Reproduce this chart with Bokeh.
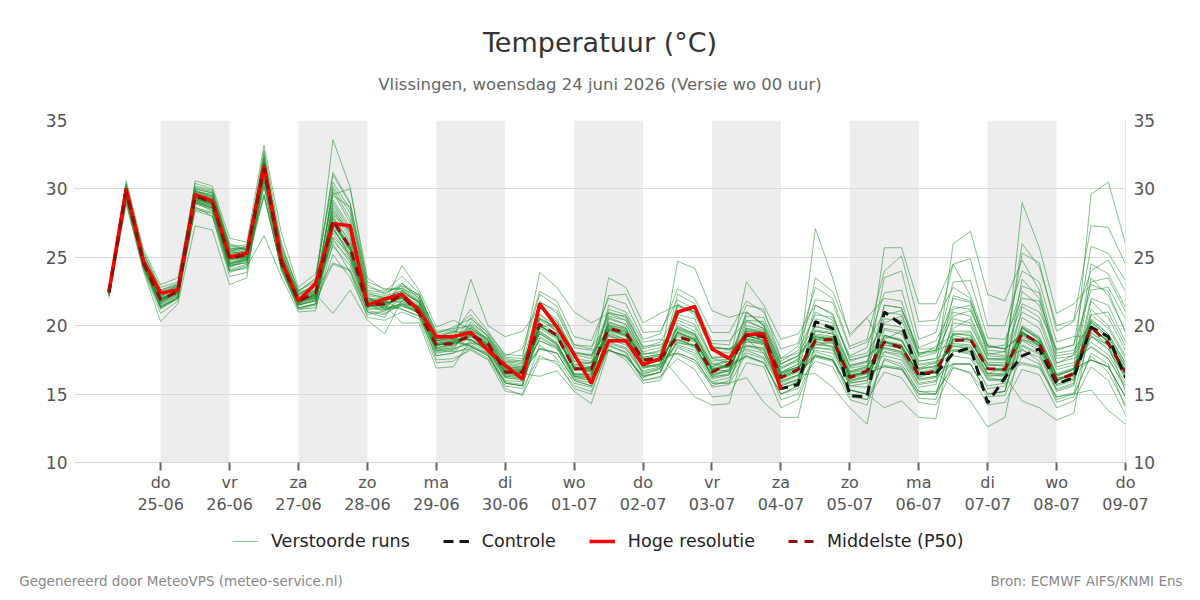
from bokeh.plotting import figure
from bokeh.layouts import column
from bokeh.models import (Range1d, FixedTicker, LinearAxis, Legend, LegendItem, Title)
from bokeh.embed import file_html
from bokeh.resources import INLINE

# ---------------- data ----------------
# forecast steps: hours after 24-06 00:00 (6-hourly, 24-06 06:00 .. 09-07 00:00)
step_hours = list(range(6, 361, 6))

day_names = ["do", "vr", "za", "zo", "ma", "di", "wo", "do", "vr", "za", "zo", "ma", "di", "wo", "do"]
day_dates = ["25-06", "26-06", "27-06", "28-06", "29-06", "30-06", "01-07", "02-07",
             "03-07", "04-07", "05-07", "06-07", "07-07", "08-07", "09-07"]
day_hours = [24 * (k + 1) for k in range(len(day_dates))]
shaded_days = ["25-06", "27-06", "29-06", "01-07", "03-07", "05-07", "07-07"]
y_ticks = [10, 15, 20, 25, 30, 35]

title_text = "Temperatuur (°C)"
subtitle_text = "Vlissingen, woensdag 24 juni 2026 (Versie wo 00 uur)"
footer_left = "Gegenereerd door MeteoVPS (meteo-service.nl)"
footer_right = "Bron: ECMWF AIFS/KNMI Ens"
legend_labels = ["Verstoorde runs", "Controle", "Hoge resolutie", "Middelste (P50)"]

hires = [22.5, 30.0, 24.7, 22.4, 22.6, 29.6, 29.1, 25.0, 25.3, 31.7, 24.8, 21.8, 23.1,
         27.45, 27.3, 21.5, 21.95, 22.3, 21.1, 19.2, 19.2, 19.5, 18.2, 17.1, 16.1, 21.6,
         19.9, 17.9, 15.8, 18.9, 18.9, 17.15, 17.6, 21.0, 21.4, 18.3, 17.6, 19.35, 19.4, 15.3]

control = [22.5, 30.0, 24.7, 22.4, 22.6, 29.6, 29.1, 25.0, 25.3, 31.7, 24.8, 21.8, 23.1,
           27.45, 27.3, 21.5, 21.95, 22.3, 21.1, 19.2, 19.2, 19.5, 18.2, 17.1, 16.1, 21.6,
           19.9, 17.9, 15.8, 18.9, 18.9, 17.15, 17.6, 21.0, 21.4, 18.3, 17.6, 19.35, 19.4,
           15.4, 15.7, 20.3, 19.8, 14.9, 14.8, 21.0, 20.1, 16.5, 16.5, 18.0, 18.4, 14.35,
           16.2, 17.8, 18.3, 15.75, 16.2, 19.9, 19.2, 16.2]

median = [22.4, 29.8, 24.6, 21.9, 22.5, 29.5, 29.0, 24.9, 25.2, 31.5, 24.6, 21.8, 22.4,
          27.7, 25.7, 21.5, 21.6, 22.2, 20.9, 18.6, 18.7, 19.3, 18.7, 16.6, 16.6, 20.1,
          19.3, 16.85, 16.85, 19.8, 19.5, 17.5, 17.6, 19.2, 18.8, 16.6, 17.2, 19.3, 19.2,
          16.2, 16.8, 18.9, 19.0, 16.2, 16.7, 18.8, 18.4, 16.4, 16.7, 18.9, 19.0, 16.85,
          16.8, 19.45, 18.7, 16.0, 16.5, 19.9, 18.7, 16.6]

members = [
    [22.4, 29.9,24.7,22.0,22.6, 29.5,29.1,25.0,25.2, 32.4,25.6,22.2,23.0, 33.6,30.1,23.0,22.3, 23.1,22.0,19.2,19.5, 19.6,18.6,16.9,16.7, 18.4,18.0,16.1,15.8, 19.5,19.0,17.2,17.4, 21.6,20.8,18.2,18.0, 19.5,19.1,16.4,16.9, 19.0,19.2,16.5,16.8, 17.1,16.9,15.2,15.0, 18.8,19.2,16.9,16.6, 23.4,22.0,17.8,18.0, 20.2,19.0,16.8],
    [22.5, 29.7,24.5,21.8,22.4, 29.3,28.9,24.7,25.0, 31.2,24.9,21.7,22.1, 27.0,25.5,21.4,21.6, 22.0,21.4,18.7,18.9, 19.3,18.4,16.5,16.4, 20.2,19.4,16.8,16.9, 21.2,20.8,18.4,18.8, 21.0,21.3,18.5,18.2, 19.0,18.8,16.5,17.0, 27.1,23.5,19.2,20.6, 22.0,21.8,17.8,18.5, 19.3,19.0,16.5,16.9, 19.0,18.6,16.2,16.3, 23.5,22.2,19.6],
    [22.6, 30.3,25.2,22.6,23.1, 30.1,29.8,25.7,25.6, 31.6,24.6,21.9,22.5, 24.6,24.1,21.0,20.8, 21.8,21.2,18.4,18.6, 19.2,18.7,16.8,16.6, 19.8,19.0,17.0,16.6, 19.9,19.6,17.6,17.5, 19.3,18.9,16.9,17.1, 17.7,17.3,15.0,15.4, 19.4,19.2,16.4,16.6, 18.6,18.3,16.6,16.9, 26.0,26.9,22.3,21.8, 24.8,22.6,18.0,18.2, 20.3,19.2,17.0],
    [22.4, 29.6,24.4,21.7,22.3, 28.6,28.3,24.1,24.5, 31.0,25.0,21.6,22.4, 28.3,26.4,21.8,21.7, 23.1,22.2,19.5,19.7, 20.8,19.4,17.7,17.6, 23.9,22.8,21.0,20.2, 20.9,20.7,18.5,18.6, 19.8,19.4,17.2,17.0, 19.6,19.5,16.6,17.0, 18.6,18.8,16.1,16.5, 19.2,18.9,16.7,16.5, 19.4,19.5,17.2,17.0, 19.9,18.9,16.3,16.8, 29.6,30.5,26.0],
    [22.2, 29.2,24.2,21.2,22.0, 28.4,28.0,23.9,24.3, 26.6,23.6,21.0,21.1, 27.2,25.0,21.5,21.3, 22.3,21.5,18.5,18.8, 18.5,17.8,15.9,15.7, 19.9,19.1,16.8,17.0, 19.6,19.2,17.2,17.7, 17.9,17.3,15.6,16.0, 19.2,19.0,16.1,16.6, 17.7,17.4,15.3,15.0, 18.9,18.6,16.5,16.8, 18.9,18.8,16.9,16.7, 17.2,16.9,14.8,15.1, 19.5,18.7,16.4],
    [22.4, 29.8,24.6,22.1,22.7, 29.6,29.2,25.1,25.4, 31.5,24.8,21.8,22.2, 30.2,28.2,22.4,22.0, 22.2,21.4,18.6,18.7, 19.5,18.6,16.6,16.5, 20.0,19.3,16.9,16.8, 18.2,17.7,16.2,16.6, 19.6,19.1,16.7,17.2, 23.2,21.5,19.0,19.4, 21.5,20.9,17.4,17.8, 18.6,18.4,16.3,16.6, 19.1,18.9,16.8,16.9, 19.6,18.7,16.0,16.4, 20.0,18.8,16.6],
    [22.6, 30.1,25.0,22.4,22.9, 29.2,28.8,24.8,25.1, 31.1,24.7,21.7,22.0, 26.5,25.2,21.6,21.4, 21.2,20.7,17.8,18.0, 19.4,18.5,16.7,16.8, 21.4,20.3,18.0,17.9, 19.8,19.5,17.4,17.6, 19.4,18.9,16.6,17.3, 19.3,19.2,16.3,16.8, 19.0,18.9,16.2,16.7, 25.7,25.7,21.6,21.6, 24.5,22.2,18.6,18.3, 19.3,18.6,16.1,16.6, 19.7,18.9,16.7],
    [22.3, 29.9,24.8,22.0,22.5, 29.4,29.0,25.2,25.3, 32.2,25.4,22.3,23.0, 28.0,26.0,21.8,21.9, 22.0,21.2,18.7,18.9, 18.6,17.9,15.8,15.6, 20.1,19.2,16.9,16.6, 19.7,19.3,17.3,17.4, 24.7,24.2,21.1,20.6, 21.0,20.1,17.2,17.8, 19.3,19.1,16.4,16.6, 18.8,18.3,16.2,16.7, 17.2,17.2,15.0,15.2, 19.5,18.8,16.0,16.5, 24.5,23.8,21.3],
    [22.4, 29.8,24.6,21.9,22.5, 30.0,29.7,25.5,25.7, 31.4,24.8,21.8,22.3, 20.9,22.6,20.4,19.4, 21.9,21.3,18.6,18.7, 19.2,18.4,16.6,16.5, 18.3,18.0,16.0,15.6, 19.7,19.4,17.5,17.6, 19.2,18.8,16.7,17.1, 19.3,18.9,16.2,16.7, 17.8,17.5,15.3,15.0, 18.8,18.6,16.4,16.7, 19.0,19.0,16.8,16.8, 29.0,25.7,20.9,21.6, 23.0,22.5,19.5],
    [22.2, 29.3,24.3,21.3,22.1, 29.4,28.9,24.9,25.0, 31.3,24.8,21.8,22.4, 27.6,25.8,21.5,21.5, 22.1,21.3,18.6,18.8, 23.4,20.0,19.2,19.6, 21.3,20.5,18.1,17.8, 19.8,19.5,17.4,17.5, 19.5,19.0,16.8,17.2, 17.8,17.3,15.0,15.6, 19.1,19.0,16.3,16.5, 17.0,16.8,15.0,15.0, 19.0,19.0,16.9,16.8, 19.4,18.8,16.0,16.5, 19.9,18.8,16.6],
    [22.4, 29.7,24.5,21.8,22.4, 29.3,28.8,24.6,24.9, 29.5,24.2,21.3,21.6, 27.4,25.6,21.7,21.6, 23.0,22.0,19.3,19.6, 19.4,18.6,16.7,16.6, 20.0,19.2,16.8,16.7, 23.5,22.8,20.2,20.9, 21.5,21.0,18.4,18.3, 19.3,18.9,16.3,16.8, 19.0,18.8,16.3,16.6, 17.0,16.8,15.0,15.0, 17.2,17.2,15.0,15.2, 19.5,18.7,16.0,16.5, 19.8,18.9,16.6],
    [22.5, 29.8,24.6,22.0,22.5, 29.5,29.0,24.9,25.2, 31.5,24.9,21.9,22.2, 27.8,25.8,21.6,21.6, 22.2,21.3,18.6,18.7, 19.3,18.5,16.6,16.6, 18.3,18.0,16.0,15.6, 19.7,19.3,17.3,17.6, 19.5,19.0,16.8,17.0, 17.8,17.3,15.0,15.6, 19.2,19.0,16.3,16.7, 21.5,21.3,18.0,18.2, 22.0,21.7,18.5,18.3, 19.5,18.8,16.0,16.5, 17.5,17.0,14.8],
    [22.6, 30.2,25.1,22.5,23.0, 29.3,29.0,24.9,25.1, 31.3,24.8,21.8,22.3, 30.0,27.8,22.3,22.1, 22.1,21.3,18.6,18.8, 19.4,18.5,16.7,16.5, 20.0,19.2,16.9,16.7, 19.7,19.3,17.3,17.5, 18.0,17.5,15.8,15.8, 19.3,18.9,16.2,16.7, 21.5,20.8,17.5,17.8, 18.8,18.5,16.4,16.6, 19.0,19.0,16.8,16.8, 22.5,21.5,17.6,17.8, 19.8,18.9,16.6],
    [22.4, 29.8,24.6,21.9,22.5, 30.0,29.7,25.6,25.6, 32.3,25.5,22.3,23.0, 27.5,25.8,21.6,21.4, 22.1,21.3,18.6,18.8, 20.6,19.2,17.6,17.4, 20.0,19.3,16.9,16.9, 18.2,17.8,16.3,16.6, 19.5,19.0,16.8,17.0, 19.3,19.2,16.2,16.7, 19.2,19.0,16.3,16.5, 18.8,18.5,16.4,16.6, 22.2,21.8,18.5,18.3, 19.4,18.7,16.0,16.5, 19.9,18.8,16.6],
    [22.3, 29.7,24.5,21.9,22.4, 29.4,28.9,24.9,25.1, 31.4,24.7,21.7,22.2, 27.5,25.6,21.5,21.5, 20.2,20.2,16.9,17.0, 19.0,18.2,16.3,16.2, 20.4,19.6,17.2,17.0, 19.3,18.9,17.0,17.2, 19.8,19.2,17.0,17.4, 21.0,20.0,17.2,17.8, 19.6,19.4,16.6,17.0, 18.4,18.1,16.1,16.3, 19.4,19.3,17.1,17.1, 17.3,17.0,14.8,15.0, 15.3,13.8,12.8],
    [22.2, 29.3,24.3,21.3,22.0, 29.3,28.9,24.8,25.0, 31.2,24.8,21.8,22.3, 27.6,25.6,21.4,21.5, 22.1,21.3,18.6,18.7, 19.3,18.5,16.6,16.5, 16.3,16.7,15.2,14.3, 18.2,17.8,16.3,16.6, 18.9,18.5,16.4,16.7, 19.7,19.5,16.5,17.0, 17.8,17.5,15.3,15.0, 21.5,21.3,18.0,18.2, 18.7,18.6,16.5,16.5, 19.8,19.1,16.4,16.8, 20.3,19.2,17.0],
    [22.4, 29.7,24.5,21.8,22.4, 28.5,28.2,24.0,24.4, 29.5,24.2,21.3,21.6, 27.4,25.5,21.5,21.5, 22.1,21.3,18.6,18.7, 19.6,18.7,16.9,16.8, 19.6,18.8,16.5,16.4, 20.0,19.6,17.5,17.8, 16.3,14.8,14.2,14.3, 19.0,18.7,15.9,16.4, 17.8,17.5,15.3,15.0, 14.0,14.5,13.3,13.2, 19.4,19.3,17.1,17.2, 19.0,18.4,15.7,16.2, 19.5,18.5,16.3],
    [22.4, 29.6,24.7,21.7,22.3, 29.7,29.3,25.3,25.4, 31.0,24.5,21.6,22.0, 26.8,24.9,21.3,21.8, 21.2,20.7,17.8,18.0, 18.5,17.8,15.8,15.6, 19.6,18.7,16.4,16.5, 20.2,19.9,17.7,17.9, 19.0,18.5,16.5,16.8, 19.8,19.6,16.6,17.2, 18.6,18.5,16.0,16.3, 19.3,18.9,16.8,17.1, 18.5,18.4,16.4,16.3, 14.5,14.0,13.1,13.6, 20.5,19.4,17.2],
    [22.7, 30.6,25.6,23.0,23.5, 30.2,29.9,25.8,25.9, 31.6,25.0,22.0,22.4, 29.8,27.5,22.2,22.0, 22.2,21.4,18.7,18.9, 18.5,17.8,15.8,15.6, 20.0,19.2,16.9,16.8, 18.2,17.8,16.3,16.6, 19.5,19.0,16.8,17.0, 21.0,20.0,17.2,17.8, 19.2,19.0,16.3,16.7, 18.8,18.5,16.4,16.6, 15.5,14.5,12.6,13.3, 19.4,18.7,16.0,16.5, 22.0,21.5,18.8],
    [22.5, 29.9,24.5,22.2,22.7, 29.2,28.7,24.6,24.8, 30.8,24.4,21.5,21.9, 24.5,24.0,21.0,20.6, 22.6,21.7,19.0,19.2, 19.8,18.9,17.0,16.9, 19.5,18.6,16.5,16.4, 20.3,19.8,17.7,17.9, 21.4,21.0,18.4,18.3, 18.8,18.7,15.9,16.4, 16.5,15.5,14.0,12.8, 19.3,19.0,16.9,17.0, 18.5,18.3,16.3,16.4, 20.0,19.2,16.5,16.9, 17.5,17.0,14.8],
    [22.3, 29.5,24.4,21.6,22.2, 29.0,28.6,24.5,24.8, 29.6,24.2,21.3,21.6, 28.8,26.8,22.0,21.9, 22.6,21.6,18.9,19.0, 19.0,18.2,16.3,16.2, 21.3,20.3,18.0,17.8, 21.0,20.6,18.3,18.6, 19.0,18.6,16.4,16.7, 19.8,19.5,16.6,17.2, 23.5,22.5,19.4,20.6, 18.3,18.0,16.0,16.2, 19.6,19.6,17.3,17.3, 18.9,18.2,15.6,16.0, 20.4,19.4,17.3],
    [22.0, 28.9,24.0,20.3,21.6, 27.3,27.0,23.0,23.5, 31.3,24.8,21.8,22.3, 27.6,25.7,21.6,21.6, 24.4,22.6,19.9,20.4, 19.7,18.8,17.0,16.9, 19.4,18.6,16.4,16.3, 20.1,19.7,17.6,17.8, 18.0,17.5,15.8,15.8, 16.2,14.4,13.3,13.3, 18.8,18.7,16.0,16.3, 18.4,18.1,16.1,16.3, 17.2,17.2,15.0,15.2, 19.8,19.0,16.3,16.8, 17.5,17.0,14.8],
    [22.5, 30.0,24.9,22.2,22.8, 29.8,29.4,25.3,25.5, 31.8,25.1,22.1,22.6, 26.4,24.6,21.2,21.2, 21.6,20.9,18.2,18.4, 19.9,18.9,17.1,17.0, 20.5,19.7,17.4,17.3, 19.2,18.9,16.9,17.1, 21.5,21.0,18.4,18.3, 18.9,18.6,15.8,16.3, 19.7,19.5,16.7,17.0, 23.5,24.0,19.0,19.5, 24.5,24.9,20.0,20.0, 24.0,23.2,18.8,19.2, 19.3,18.3,16.1],
    [22.5, 29.8,24.6,21.9,22.5, 30.6,30.2,26.4,26.1, 33.2,26.8,22.8,23.8, 30.5,28.5,22.5,22.2, 22.5,21.8,18.9,19.1, 18.9,18.2,16.2,16.1, 20.6,19.8,17.4,17.2, 19.3,18.8,16.9,17.2, 19.9,19.4,17.2,17.4, 19.1,18.8,16.0,16.4, 18.7,18.5,15.9,16.2, 19.3,18.9,16.8,17.0, 18.6,18.5,16.5,16.4, 19.9,19.1,16.4,16.9, 19.2,18.3,16.2],
    [22.3, 29.4,24.8,22.3,22.8, 28.9,28.5,24.3,24.7, 30.6,24.3,21.5,21.8, 29.0,27.0,22.1,21.2, 21.6,21.0,18.0,18.2, 20.3,19.2,17.3,17.1, 18.9,18.3,16.2,16.0, 20.6,20.1,17.9,18.2, 20.4,19.9,17.6,17.8, 18.5,18.2,15.6,16.0, 20.2,20.0,17.0,17.3, 17.8,17.5,15.5,15.7, 20.5,20.2,17.6,17.5, 21.0,20.3,17.0,17.3, 18.5,17.6,15.4],
    [22.6, 30.4,25.3,22.8,23.2, 29.9,29.5,25.4,25.8, 32.0,25.2,22.0,22.7, 25.8,24.4,21.1,20.9, 21.5,20.9,18.1,18.3, 18.8,18.0,16.0,15.9, 19.2,18.5,16.3,16.2, 21.5,21.0,18.8,19.0, 18.6,18.2,16.1,16.4, 20.3,19.8,17.0,17.5, 18.4,18.2,15.8,16.0, 20.5,20.4,17.4,17.6, 18.2,18.0,16.0,16.1, 18.5,17.9,15.4,15.8, 21.2,20.0,17.8],
    [22.4, 29.6,24.4,21.5,22.2, 29.0,28.6,24.4,24.6, 30.5,24.5,21.6,21.8, 29.2,27.2,22.0,21.7, 22.8,21.9,19.2,19.3, 19.0,18.1,16.2,16.0, 20.8,20.0,17.6,17.4, 18.8,18.4,16.6,16.9, 20.2,19.6,17.4,17.6, 18.3,18.0,15.4,15.9, 20.5,20.2,17.1,17.4, 19.8,19.6,17.2,17.4, 17.8,17.6,15.6,15.8, 20.6,19.8,16.8,17.1, 18.8,17.9,15.8],
    [22.3, 29.5,24.3,21.4,22.0, 29.1,28.6,24.4,24.8, 31.8,25.0,22.0,22.6, 26.2,24.8,21.3,21.2, 22.5,21.7,18.9,19.1, 20.0,19.0,17.2,17.0, 19.4,18.7,16.3,16.2, 19.0,18.6,16.7,17.0, 18.8,18.4,16.2,16.5, 20.0,19.7,16.9,17.4, 19.9,19.7,16.9,17.1, 18.1,17.9,15.8,16.0, 20.2,20.0,17.5,17.5, 18.6,18.0,15.3,15.7, 21.8,20.6,18.2],
    [22.5, 30.0,24.8,22.2,22.7, 29.7,29.2,25.2,25.5, 31.0,24.6,21.7,22.1, 27.0,25.3,21.8,21.8, 21.7,21.0,18.3,18.5, 19.5,18.7,16.8,16.7, 21.8,20.9,18.4,18.2, 18.7,18.3,16.5,16.8, 19.0,18.5,16.3,16.8, 19.6,19.4,16.4,17.0, 18.2,18.0,15.6,15.8, 19.7,19.4,17.1,17.3, 18.3,18.1,16.2,16.0, 21.4,20.6,17.3,17.6, 18.4,17.6,15.6],
    [22.4, 29.9,24.7,22.0,22.4, 29.1,28.6,24.5,24.9, 32.0,25.3,22.2,22.8, 28.6,26.6,21.9,21.7, 21.8,21.1,18.4,18.6, 19.8,18.9,17.0,16.8, 18.9,18.4,16.3,16.0, 20.5,20.1,17.9,18.1, 20.6,20.1,17.7,17.7, 18.6,18.3,15.7,16.1, 19.6,19.4,16.6,16.9, 20.1,19.9,17.4,17.6, 21.0,20.7,17.8,17.7, 18.2,17.7,15.2,15.6, 20.8,19.8,17.6],
    [22.3, 29.5,24.9,22.4,22.9, 29.8,29.6,25.9,25.5, 31.9,25.9,22.5,23.4, 31.2,29.0,22.8,22.5, 23.6,22.4,19.4,19.9, 20.5,19.5,17.9,17.8, 22.3,21.4,18.6,18.5, 20.0,19.8,17.0,17.2, 22.3,21.6,18.9,18.9, 20.4,20.3,17.4,18.2, 20.8,20.6,17.8,18.4, 22.4,22.6,18.4,18.9, 21.4,21.2,18.2,18.1, 25.3,24.6,19.6,20.3, 24.0,24.8,22.5],
    [22.5, 29.9,24.6,21.4,22.1, 29.0,28.4,24.2,24.9, 31.7,25.1,21.9,22.0, 28.1,27.0,22.2,21.2, 21.4,21.0,17.5,17.6, 18.2,17.5,15.2,15.0, 18.6,17.6,15.8,15.5, 18.5,18.1,16.0,16.2, 18.4,17.8,15.5,15.7, 18.0,17.6,14.6,15.0, 18.1,17.7,15.0,14.6, 16.6,16.2,14.4,14.2, 17.0,16.5,14.2,14.4, 16.8,16.4,14.0,14.5, 17.0,16.0,13.5],
    [22.4, 29.7,24.9,22.1,22.8, 29.9,29.3,24.5,25.0, 31.9,24.9,22.4,22.9, 29.5,28.7,22.6,22.4, 22.9,22.3,19.0,19.4, 21.2,19.6,17.8,18.3, 22.5,21.8,19.2,18.9, 22.0,21.6,19.0,19.4, 22.7,22.0,19.5,19.5, 21.8,21.0,18.3,18.7, 22.8,22.0,18.5,19.0, 24.0,25.1,20.3,20.4, 22.8,22.0,18.0,17.8, 26.0,24.3,20.0,20.4, 27.3,27.2,24.5],
    [22.3, 29.4,24.4,21.4,22.0, 29.2,28.9,24.4,24.6, 30.2,24.0,21.2,21.5, 25.2,23.5,20.8,21.1, 21.5,21.1,18.2,18.1, 18.3,17.6,15.6,15.4, 17.8,17.2,15.6,15.2, 18.3,17.5,15.8,16.0, 18.5,18.0,15.9,16.2, 18.2,17.7,15.4,15.8, 17.4,17.0,14.6,14.2, 17.6,17.2,15.2,15.2, 16.9,16.6,14.8,14.9, 17.8,17.2,14.4,14.8, 18.0,17.2,14.0],
    [22.6, 30.2,25.4,22.6,23.0, 30.4,30.0,26.0,25.6, 32.8,26.1,22.5,23.5, 31.0,28.9,23.2,22.7, 22.7,21.8,19.1,19.6, 20.1,19.3,17.5,17.3, 21.7,21.1,18.6,18.3, 22.2,22.3,19.5,19.6, 21.9,21.2,18.7,18.6, 21.5,21.2,17.6,18.5, 21.9,21.7,18.3,18.8, 21.0,20.8,17.9,18.1, 23.2,23.3,19.1,19.0, 22.0,21.8,18.2,18.6, 25.8,25.3,23.3],
    [22.4, 29.6,24.5,21.9,22.6, 29.1,28.7,24.0,24.2, 30.2,24.3,21.5,21.9, 27.9,26.2,21.9,22.0, 22.4,21.7,18.8,19.0, 19.0,18.3,16.4,16.4, 19.1,18.4,16.7,17.0, 19.4,19.0,16.4,16.9, 20.0,19.4,16.9,16.6, 18.5,18.4,15.3,15.9, 18.4,18.3,15.8,16.0, 19.0,19.6,16.9,17.3, 19.8,20.5,17.6,17.6, 19.2,18.5,15.9,16.6, 20.8,21.0,18.5],
    [22.5, 29.9,24.8,22.3,22.9, 29.5,29.1,25.4,25.6, 31.5,25.8,22.6,23.2, 29.6,30.0,23.5,22.6, 22.7,22.2,19.6,19.8, 20.0,19.0,17.4,17.2, 20.5,19.9,17.1,17.3, 20.9,20.4,18.1,18.4, 19.7,19.3,17.0,17.6, 20.7,20.6,17.6,18.0, 20.0,19.6,17.1,17.4, 20.8,21.1,18.3,18.3, 21.2,21.5,17.9,18.1, 21.6,21.0,18.3,18.6, 22.6,22.8,20.5],
    [22.2, 29.0,24.1,20.9,21.8, 28.7,28.0,23.6,23.9, 30.9,24.6,21.2,21.3, 26.0,23.9,20.6,20.4, 21.0,20.5,17.3,17.4, 18.4,18.0,15.4,14.9, 17.6,17.4,15.4,15.0, 18.6,18.0,16.0,16.3, 17.6,16.8,14.8,14.9, 17.3,17.0,14.0,14.6, 17.9,17.5,14.8,14.6, 17.5,17.0,14.7,14.6, 18.2,17.9,15.4,15.6, 18.3,17.4,14.6,15.0, 17.8,16.6,14.2],
    [22.5, 30.1,24.9,21.8,22.4, 29.6,29.4,25.6,25.8, 31.1,25.2,21.7,22.2, 28.4,26.8,21.6,21.0, 22.0,21.0,18.9,19.2, 19.6,19.1,17.3,17.5, 19.9,20.1,17.9,17.6, 20.7,20.4,18.0,17.9, 20.8,20.5,17.6,17.3, 20.4,19.8,16.8,17.6, 21.0,20.4,17.7,18.0, 20.2,20.7,17.7,18.0, 20.7,21.1,18.4,18.6, 22.9,22.4,17.2,17.9, 23.2,23.5,21.0],
    [22.4, 29.8,24.5,21.6,22.6, 29.8,29.5,25.6,25.0, 32.6,25.1,22.0,22.5, 27.2,25.1,21.4,21.3, 21.6,21.4,18.3,18.3, 18.7,18.6,16.4,16.3, 20.9,19.5,17.0,16.9, 20.0,19.3,17.1,17.0, 18.7,18.6,16.3,16.4, 19.0,18.0,15.6,16.1, 18.9,18.4,15.6,15.5, 18.1,17.7,15.7,15.9, 18.1,18.2,16.1,15.9, 19.6,18.5,15.7,16.1, 19.2,18.6,15.2],
]

for m in members:
    assert len(m) == len(step_hours), len(m)
assert len(control) == len(step_hours) and len(median) == len(step_hours)

FONT = "DejaVu Sans"
W = 1200
FRAME_L, FRAME_R = 74, 1125            # chart frame edges in page pixels
MAIN_H, STRIP_H = 525, 75
footer_centers = [180.5, 1086.0]        # page-pixel centres of the footer texts

ens_style = dict(line_color="#1f8f30", line_alpha=0.55, line_width=1)
ctl_style = dict(line_color="#151515", line_width=3, line_dash="10 6")
hr_style = dict(line_color="#ff0000", line_width=3.5)
med_style = dict(line_color="#990b0b", line_width=3, line_dash="9 7")

# ---------------- main chart ----------------
p = figure(width=W, height=MAIN_H, title=None,
           x_range=Range1d(-6, 360), y_range=Range1d(10, 35),
           output_backend="svg", toolbar_location=None,
           min_border_left=FRAME_L, min_border_right=W - FRAME_R,
           min_border_top=120, min_border_bottom=MAIN_H - 462,
           background_fill_color="white", border_fill_color="white")
p.outline_line_color = None

band_left = [day_hours[day_dates.index(d)] for d in shaded_days]
band_right = [h + 24 for h in band_left]
p.quad(left=band_left, right=band_right, bottom=10, top=35,
       fill_color="#ededed", line_color=None, level="image")

p.xgrid.visible = False
p.ygrid.ticker = FixedTicker(ticks=y_ticks)
p.ygrid.grid_line_color = "#d8d8d8"
p.ygrid.grid_line_width = 1

p.multi_line(xs=[step_hours] * len(members), ys=members, **ens_style)
p.line(step_hours, control, **ctl_style)
p.line(step_hours[:len(hires)], hires, **hr_style)
p.line(step_hours, median, **med_style)

lab_color = "#555555"


def style_y(ax, standoff):
    ax.ticker = FixedTicker(ticks=y_ticks)
    ax.major_tick_line_color = None
    ax.minor_tick_line_color = None
    ax.major_tick_out = 0
    ax.major_tick_in = 0
    ax.major_label_standoff = standoff
    ax.major_label_text_font = FONT
    ax.major_label_text_font_size = "17px"
    ax.major_label_text_color = lab_color


yax = p.yaxis[0]
style_y(yax, 7)
yax.axis_line_color = None
yr = LinearAxis()
style_y(yr, 8)
yr.axis_line_color = "#e6e6e6"
p.add_layout(yr, "right")

xax = p.xaxis[0]
xax.ticker = FixedTicker(ticks=day_hours)
xax.major_label_overrides = {h: f"{n}\n{d}" for h, n, d in zip(day_hours, day_names, day_dates)}
xax.axis_line_color = "#d8d8d8"
xax.major_tick_line_color = "#666666"
xax.major_tick_line_width = 2
xax.major_tick_out = 8
xax.major_tick_in = 0
xax.minor_tick_line_color = None
xax.major_label_standoff = 2
xax.major_label_text_font = FONT
xax.major_label_text_font_size = "16px"
xax.major_label_text_color = lab_color

# titles (first added = nearest to the chart)
p.add_layout(Title(text=subtitle_text, align="center", text_font=FONT,
                   text_font_size="16.5px", text_font_style="normal",
                   text_color="#666666", standoff=53), "above")
p.add_layout(Title(text=title_text, align="center", text_font=FONT,
                   text_font_size="27px", text_font_style="normal",
                   text_color="#333333", standoff=-23), "above")

# ---------------- legend + footer strip ----------------
s = figure(width=W, height=STRIP_H, title=None,
           x_range=Range1d(FRAME_L, FRAME_R), y_range=Range1d(0, 1),
           output_backend="svg", toolbar_location=None,
           min_border_left=FRAME_L, min_border_right=W - FRAME_R,
           min_border_top=0, min_border_bottom=35, y_axis_location=None,
           background_fill_color="white", border_fill_color="white")
s.outline_line_color = None
s.xgrid.visible = False
s.ygrid.visible = False

# legend keys: renderers styled like the chart's lines, holding no visible point
nan = float("nan")
k_ens = s.line(x=[nan], y=[nan], **ens_style)
k_ctl = s.line(x=[nan], y=[nan], **ctl_style)
k_hr = s.line(x=[nan], y=[nan], **hr_style)
k_med = s.line(x=[nan], y=[nan], **med_style)

legend = Legend(items=[LegendItem(label=t, renderers=[r])
                       for t, r in zip(legend_labels, [k_ens, k_ctl, k_hr, k_med])],
                orientation="horizontal", location=(158, 14))
legend.label_text_font = FONT
legend.label_text_font_size = "17.5px"
legend.label_text_color = "#222222"
legend.glyph_width = 26
legend.glyph_height = 20
legend.label_standoff = 13
legend.spacing = 33
legend.padding = 0
legend.margin = 0
legend.background_fill_alpha = 0
legend.border_line_color = None
s.add_layout(legend, "center")

foot = s.xaxis[0]
foot.ticker = FixedTicker(ticks=footer_centers)
foot.major_label_overrides = {footer_centers[0]: footer_left, footer_centers[1]: footer_right}
foot.axis_line_color = None
foot.major_tick_line_color = None
foot.minor_tick_line_color = None
foot.major_tick_out = 0
foot.major_tick_in = 0
foot.major_label_standoff = 7
foot.major_label_text_font = FONT
foot.major_label_text_font_size = "13.5px"
foot.major_label_text_color = "#888888"

layout = column(p, s, spacing=0)
open("out.html", "w").write(file_html(layout, INLINE))
